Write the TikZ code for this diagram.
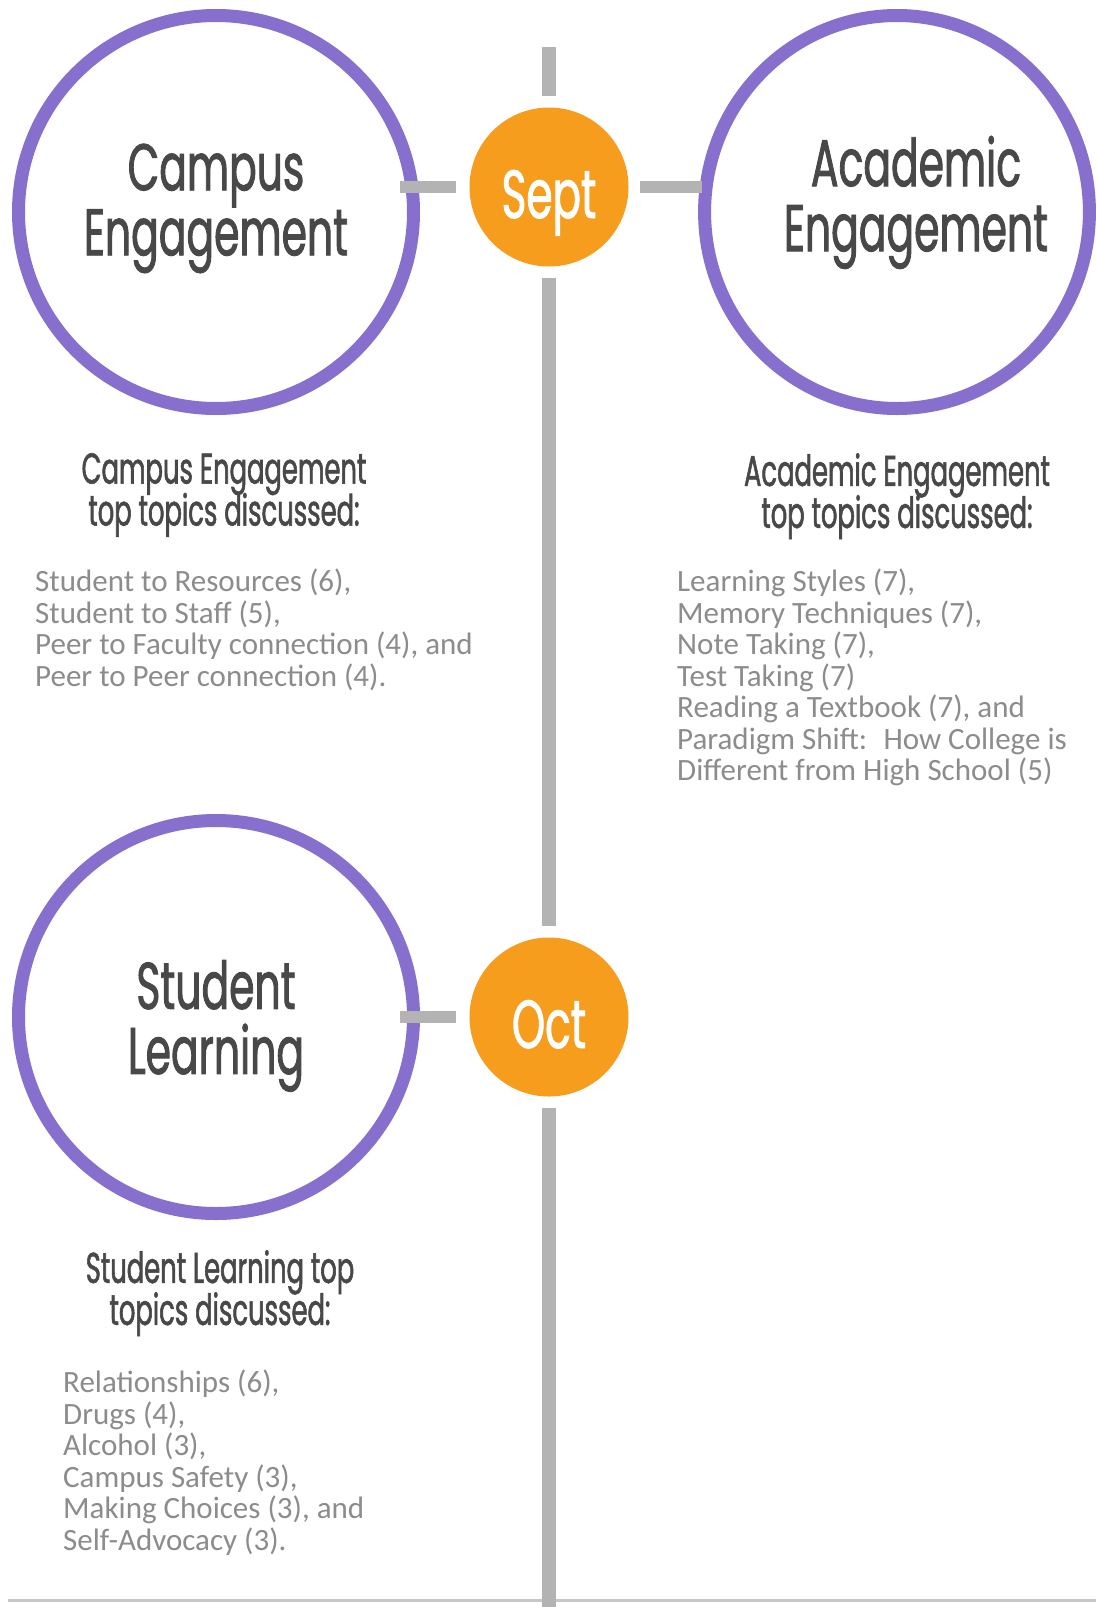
\documentclass[tikz,border=0pt]{standalone}
\usepackage{fontspec}
\setmainfont{Carlito}
\newfontfamily\titlefont[FakeStretch=0.62,FakeBold=1.3]{Poppins}
\newfontfamily\headfont[FakeStretch=0.6,FakeBold=1.3]{Poppins}
\usetikzlibrary{positioning,shapes.geometric}

\definecolor{ringpurple}{RGB}{134,111,205}
\definecolor{monthorange}{RGB}{246,157,30}
\definecolor{bargrey}{RGB}{179,179,179}
\definecolor{headgrey}{RGB}{72,72,72}
\definecolor{listgrey}{RGB}{140,140,140}

\tikzstyle{topic} = [ellipse, minimum width=395pt, minimum height=393pt, draw=ringpurple, line width=13pt, fill=white, text=headgrey, align=center, font=\titlefont\fontsize{66}{65}\selectfont]
\tikzstyle{month} = [circle, minimum size=159pt, inner sep=0pt, fill=monthorange, text=white, text height=62pt, text depth=0pt, font=\titlefont\fontsize{68}{68}\selectfont]
\tikzstyle{heading} = [anchor=north, align=center, inner sep=0pt, text=headgrey, font={\headfont\fontsize{43}{42}\selectfont\lineskiplimit-20pt\relax}]
\tikzstyle{topics} = [anchor=north west, align=left, inner sep=0pt, text=listgrey, font=\fontsize{31}{31.5}\selectfont]
\tikzstyle{bar} = [line width=14pt, draw=bargrey]
\tikzstyle{link} = [line width=12pt, draw=bargrey]
\tikzstyle{floor} = [line width=3pt, draw=black!22]

\begin{document}
\begin{tikzpicture}[x=1pt, y=-1pt, node distance=830pt]
\fill [white] (0,0) rectangle (1096,1607);
\useasboundingbox (0,0) rectangle (1096,1607);

\node (sept) [month] at (549,187) {Sept};
\node (oct) [month, below of=sept] {Oct};
\node (camp) [topic, text depth=25pt] at (216,212) {Campus\\Engagement};
\node (acad) [topic, minimum width=381pt, inner xsep=-15pt, text depth=37pt] at (897,212) {\hspace*{38pt}Academic\\\hspace*{38pt}Engagement};
\node (stud) [topic, text depth=0pt, left of=oct, node distance=333pt] {Student\\Learning};

\node (camphead) [heading] at (224,453) {Campus Engagement\\top topics discussed:};
\node (acadhead) [heading] at (897,453) {Academic Engagement\\top topics discussed:};
\node (studhead) [heading] at (220,1250) {Student Learning top\\topics discussed:};

\node (camplist) [topics] at (35,569) {Student to Resources (6),\\Student to Staff (5),\\Peer to Faculty connection (4), and\\Peer to Peer connection (4).};
\node (acadlist) [topics] at (677,569) {Learning Styles (7),\\Memory Techniques (7),\\Note Taking (7),\\Test Taking (7)\\Reading a Textbook (7), and\\Paradigm Shift:~ How College is\\Different from High School (5)};
\node (studlist) [topics] at (63,1370) {Relationships (6),\\Drugs (4),\\Alcohol (3),\\Campus Safety (3),\\Making Choices (3), and\\Self-Advocacy (3).};

\coordinate (bartop) at (549,47);
\coordinate (barend) at (549,1607);
\coordinate (floorl) at (8,1600);
\coordinate (floorr) at (1096,1600);

\draw [floor] (floorl) -- (floorr);
\draw [bar, shorten <=11pt] (sept.north) -- (bartop);
\draw [bar, shorten <=11pt, shorten >=11pt] (sept.south) -- (oct.north);
\draw [bar, shorten <=11pt] (oct.south) -- (barend);
\draw [link, shorten <=13pt, shorten >=-20pt] (sept.west) -- (sept.west -| camp.east);
\draw [link, shorten <=11pt, shorten >=-4pt] (sept.east) -- (sept.east -| acad.west);
\draw [link, shorten <=13pt, shorten >=-20pt] (oct.west) -- (oct.west -| stud.east);
\end{tikzpicture}
\end{document}
